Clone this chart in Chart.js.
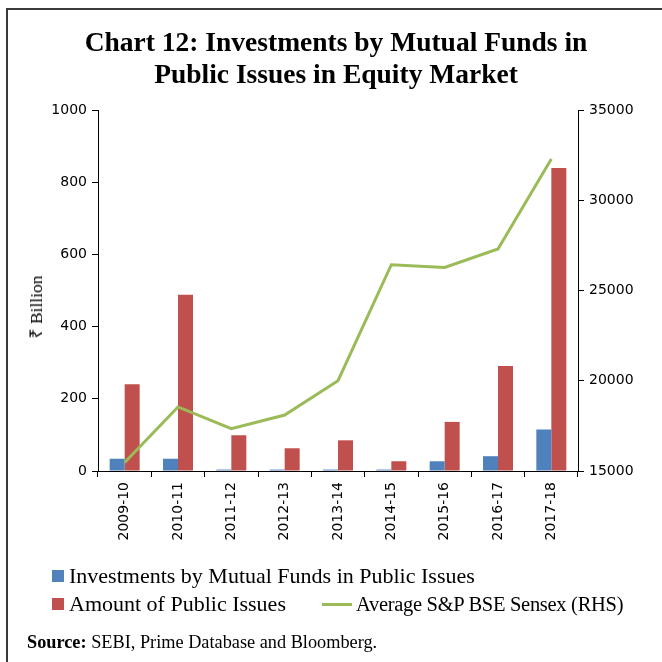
<!DOCTYPE html>
<html>
<head>
<meta charset="utf-8">
<script src="https://cdn.jsdelivr.net/npm/chart.js@4.4.1/dist/chart.umd.min.js"></script>
<style>
  body { margin: 0; background: #fff; }
  .wrap { position: relative; width: 662px; height: 662px; overflow: hidden; font-family: 'Liberation Serif', serif; color: #000; }
  .frame { position: absolute; left: 6px; top: 8px; width: 660px; height: 660px; border-top: 2px solid #3a3a3a; border-left: 2px solid #3a3a3a; }
  canvas { position: absolute; left: 0; top: 0; }
  .title { position: absolute; left: 10px; width: 652px; top: 26px; text-align: center; font-weight: bold; font-size: 27.5px; line-height: 32px; }
  .ytitle { position: absolute; left: 35px; top: 307px; transform: translate(-50%, -50%) rotate(-90deg); font-size: 17.5px; white-space: nowrap; }
  .legend { position: absolute; left: 52px; top: 562px; font-size: 22px; line-height: 28px; }
  .legend .row { display: flex; align-items: center; }
  .legend .sw { display: inline-block; width: 12px; height: 12px; margin-right: 5px; }
  .legend .ln { display: inline-block; width: 30px; height: 3px; margin: 0 4px 0 36px; }
  .legend .narrow { font-size: 20.5px; letter-spacing: -0.3px; }
  .source { position: absolute; left: 27px; top: 632px; font-size: 18.3px; }
</style>
</head>
<body>
<div class="wrap">
  <div class="frame"></div>
  <canvas id="chart" width="662" height="662"></canvas>
  <div class="title">Chart 12: Investments by Mutual Funds in<br>Public Issues in Equity Market</div>
  <div class="ytitle">₹ Billion</div>
  <div class="legend" id="legend"></div>
  <div class="source"><b>Source:</b> SEBI, Prime Database and Bloomberg.</div>
</div>
<script>
const categories = ['2009-10', '2010-11', '2011-12', '2012-13', '2013-14', '2014-15', '2015-16', '2016-17', '2017-18'];
const mfInvestments = [34, 34, 4, 4, 4, 4, 27, 41, 115];
const publicIssues = [240, 488, 99, 63, 85, 27, 136, 291, 839];
const sensexAvg = [15470, 18550, 17350, 18100, 20000, 26430, 26280, 27300, 32290];
const seriesNames = ['Investments by Mutual Funds in Public Issues', 'Amount of Public Issues', 'Average S&P BSE Sensex (RHS)'];
const colors = ['#4F81BD', '#C0504D', '#9BBB59'];

const tickFont = { family: 'DejaVu Sans', size: 14 };
const plain = (v) => String(v);

new Chart(document.getElementById('chart'), {
  type: 'bar',
  data: {
    labels: categories,
    datasets: [
      { label: seriesNames[0], data: mfInvestments, backgroundColor: colors[0], yAxisID: 'y', order: 1 },
      { label: seriesNames[1], data: publicIssues, backgroundColor: colors[1], yAxisID: 'y', order: 1 },
      { label: seriesNames[2], data: sensexAvg, type: 'line', borderColor: colors[2], borderWidth: 3,
        pointRadius: 0, tension: 0, yAxisID: 'y1', order: 0 }
    ]
  },
  options: {
    responsive: false,
    devicePixelRatio: 1,
    animation: false,
    categoryPercentage: 0.5625,
    barPercentage: 1,
    layout: { padding: { left: 20, right: 20, top: 110, bottom: 111 } },
    plugins: {
      legend: { display: false },
      tooltip: { enabled: false }
    },
    scales: {
      x: {
        grid: { offset: true, drawOnChartArea: false, tickLength: 6, color: '#000' },
        border: { color: '#000', width: 1 },
        ticks: { color: '#000', font: tickFont, minRotation: 90, maxRotation: 90, padding: 5 },
        afterFit: (s) => { s.height = 80; }
      },
      y: {
        position: 'left',
        min: 0, max: 1000,
        grid: { drawOnChartArea: false, tickLength: 6, color: '#000' },
        border: { color: '#000', width: 1 },
        ticks: { stepSize: 200, color: '#000', font: tickFont, padding: 5, callback: plain },
        afterFit: (s) => { s.width = 78; }
      },
      y1: {
        position: 'right',
        min: 15000, max: 35000,
        grid: { drawOnChartArea: false, tickLength: 6, color: '#000' },
        border: { color: '#000', width: 1 },
        ticks: { stepSize: 5000, color: '#000', font: tickFont, padding: 5, callback: plain },
        afterFit: (s) => { s.width = 64; }
      }
    }
  }
});

// legend rows laid out like the original
const legend = document.getElementById('legend');
legend.innerHTML =
  '<div class="row"><span class="sw" style="background:' + colors[0] + '"></span>' + seriesNames[0] + '</div>' +
  '<div class="row"><span class="sw" style="background:' + colors[1] + '"></span>' + seriesNames[1].replace('&', '&amp;') +
  '<span class="ln" style="background:' + colors[2] + '"></span><span class="narrow">' + seriesNames[2].replace('&', '&amp;') + '</span></div>';
</script>
</body>
</html>
